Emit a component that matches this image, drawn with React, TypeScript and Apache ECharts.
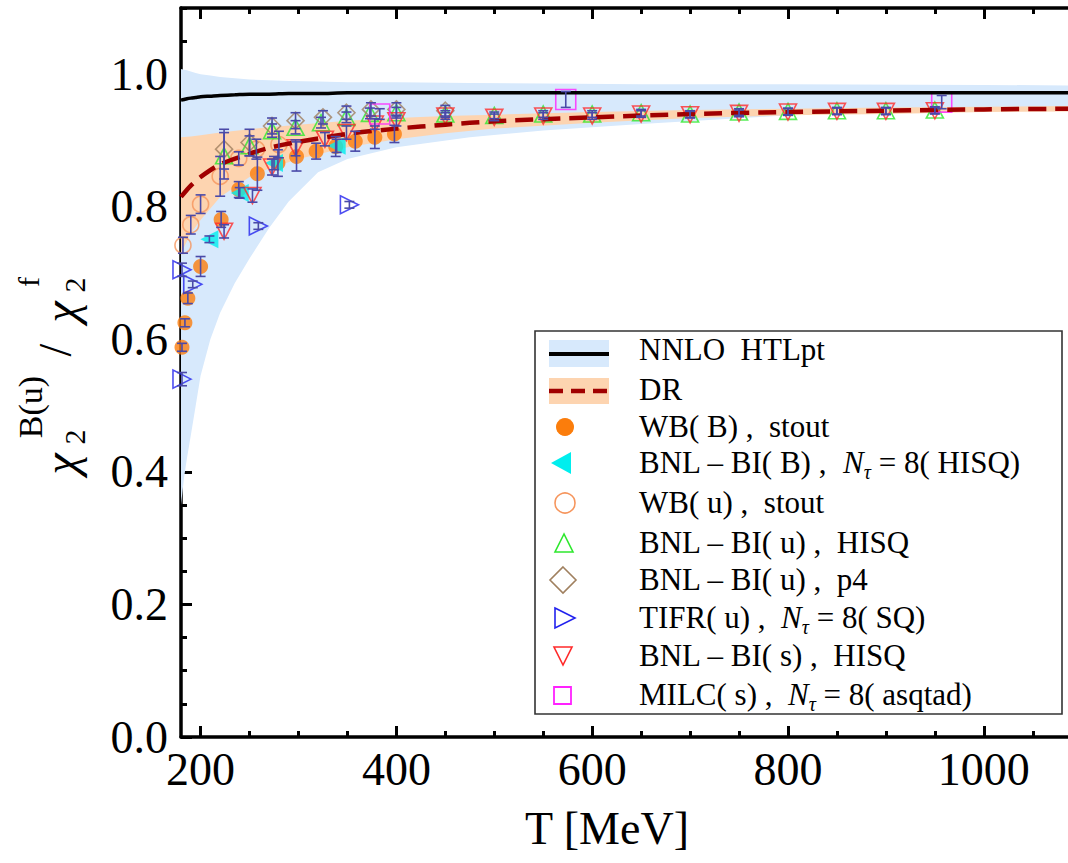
import React, { useEffect, useRef } from 'react';
import * as echarts from 'echarts';

// ---------- tick labels ----------
const X_MAJOR = [200, 400, 600, 800, 1000];
const X_MINOR = [200, 250, 300, 350, 400, 450, 500, 550, 600, 650, 700, 750, 800, 850, 900, 950, 1000, 1050];
const Y_MAJOR = [0, 0.2, 0.4, 0.6, 0.8, 1.0];
const Y_MINOR = [0, 0.05, 0.1, 0.15, 0.2, 0.25, 0.3, 0.35, 0.4, 0.45, 0.5, 0.55, 0.6, 0.65, 0.7, 0.75, 0.8, 0.85, 0.9, 0.95, 1.0, 1.05, 1.1];

// ---------- NNLO HTLpt band + central line ----------
const HTL_T = [180, 183, 186, 190, 195, 200, 210, 220, 235, 250, 270, 290, 320, 350, 400, 475, 550, 650, 800, 1000, 1090];
const HTL_LOW = [0.35, 0.39, 0.42, 0.455, 0.5, 0.545, 0.6, 0.64, 0.685, 0.722, 0.768, 0.808, 0.852, 0.872, 0.89, 0.905, 0.915, 0.925, 0.938, 0.948, 0.952];
const HTL_UP = [1.008, 1.007, 1.006, 1.004, 1.002, 1.0, 0.998, 0.996, 0.994, 0.992, 0.991, 0.99, 0.989, 0.988, 0.988, 0.987, 0.986, 0.985, 0.985, 0.984, 0.983];
const HTL_MID = [0.961, 0.962, 0.963, 0.964, 0.965, 0.966, 0.967, 0.968, 0.969, 0.97, 0.97, 0.971, 0.971, 0.972, 0.972, 0.972, 0.972, 0.972, 0.972, 0.972, 0.972];

// ---------- DR band + central line ----------
const DR_T = [180, 190, 200, 220, 250, 270, 300, 350, 400, 450, 500, 600, 700, 800, 900, 1000, 1090];
const DR_MID = [0.815, 0.832, 0.845, 0.864, 0.88, 0.889, 0.898, 0.91, 0.918, 0.924, 0.929, 0.935, 0.94, 0.943, 0.945, 0.947, 0.948];
const DR_UP = [0.905, 0.906, 0.908, 0.912, 0.917, 0.92, 0.924, 0.93, 0.934, 0.937, 0.939, 0.943, 0.946, 0.948, 0.95, 0.951, 0.952];
const DR_LOW = [0.73, 0.76, 0.78, 0.815, 0.845, 0.858, 0.872, 0.89, 0.902, 0.911, 0.918, 0.927, 0.934, 0.938, 0.94, 0.943, 0.944];

// ---------- lattice data ----------
const WBB_T = [181, 184, 187, 200, 221, 239, 258, 279, 298, 318, 338, 358, 378, 398];
const WBB_V = [0.588, 0.625, 0.662, 0.71, 0.781, 0.826, 0.85, 0.866, 0.876, 0.884, 0.891, 0.899, 0.905, 0.91];
const WBB_E = [0.006, 0.006, 0.008, 0.015, 0.012, 0.012, 0.025, 0.02, 0.022, 0.012, 0.015, 0.015, 0.017, 0.013];

const BNLB_T = [209, 240, 275, 339];
const BNLB_V = [0.751, 0.821, 0.866, 0.892];
const BNLB_E = [0.005, 0.008, 0.01, 0.01];

const WBU_T = [182, 190, 200, 220, 239, 257, 280];
const WBU_V = [0.742, 0.773, 0.804, 0.846, 0.873, 0.887, 0.894];
const WBU_E = [0.012, 0.014, 0.014, 0.03, 0.01, 0.015, 0.02];

const HISQU_T = [224, 250, 273, 297, 323, 349, 373, 400, 450, 500, 550, 600, 650, 700, 750, 800, 850, 900, 950];
const HISQU_V = [0.877, 0.892, 0.915, 0.92, 0.927, 0.935, 0.941, 0.942, 0.94, 0.938, 0.94, 0.94, 0.942, 0.94, 0.943, 0.944, 0.945, 0.945, 0.946];
const HISQU_E = [0.035, 0.015, 0.01, 0.01, 0.008, 0.008, 0.008, 0.008, 0.005, 0.005, 0.005, 0.005, 0.005, 0.005, 0.005, 0.005, 0.005, 0.005, 0.005];

const P4_T = [224, 250, 273, 297, 325, 349, 374, 400, 450];
const P4_V = [0.887, 0.897, 0.922, 0.93, 0.935, 0.942, 0.947, 0.947, 0.945];
const P4_E = [0.03, 0.02, 0.012, 0.012, 0.01, 0.01, 0.01, 0.01, 0.008];

const TIFR_T = [181, 181, 192, 259, 352];
const TIFR_V = [0.705, 0.54, 0.683, 0.771, 0.803];
const TIFR_E = [0.01, 0.01, 0.005, 0.005, 0.005];

const HISQS_T = [224, 253, 273, 297, 327, 349, 378, 400, 450, 500, 550, 600, 650, 700, 750, 800, 850, 900, 950];
const HISQS_V = [0.763, 0.817, 0.86, 0.889, 0.902, 0.912, 0.925, 0.93, 0.937, 0.935, 0.937, 0.937, 0.94, 0.939, 0.941, 0.943, 0.944, 0.944, 0.945];
const HISQS_E = [0.01, 0.01, 0.012, 0.012, 0.01, 0.01, 0.008, 0.008, 0.005, 0.005, 0.005, 0.005, 0.005, 0.005, 0.005, 0.005, 0.005, 0.005, 0.005];

const MILC_T = [383, 573, 957];
const MILC_V = [0.94, 0.962, 0.958];
const MILC_E = [0.008, 0.012, 0.01];

const LEGEND_LABELS = [
  'NNLO  HTLpt',
  'DR',
  'WB( B) ,  stout',
  'BNL – BI( B) ,  {i|N}{s|τ} = 8( HISQ)',
  'WB( u) ,  stout',
  'BNL – BI( u) ,  HISQ',
  'BNL – BI( u) ,  p4',
  'TIFR( u) ,  {i|N}{s|τ} = 8( SQ)',
  'BNL – BI( s) ,  HISQ',
  'MILC( s) ,  {i|N}{s|τ} = 8( asqtad)',
];

const FONT = 'Liberation Serif';
const BLUE_BAND = '#d7e9fc';
const ORANGE_BAND = '#fdd4b0';
const ERR_COLOR = '#4a4aa8';
const C_ORANGE = '#fb7d0c';
const C_CYAN = '#00eeee';
const C_OPEN_ORANGE = '#f6955c';
const C_GREEN = '#2ee82e';
const C_BROWN = '#a0805f';
const C_BLUE = '#2222ee';
const C_RED = '#ff2a2a';
const C_MAGENTA = '#ff22ff';
const C_DR = '#a00000';

const zip = (t: number[], v: number[]) => t.map((x, i) => [x, v[i]]);

const bandSeries = (T: number[], LOW: number[], UP: number[], fill: string) => ({
  type: 'custom',
  data: T.map((t, i) => [t, LOW[i], UP[i]]),
  clip: true,
  silent: true,
  renderItem: (params: any, api: any) => {
    if (params.dataIndex !== 0) return { type: 'group', children: [] };
    const pts: number[][] = [];
    for (let i = 0; i < T.length; i++) pts.push(api.coord([T[i], UP[i]]));
    for (let i = T.length - 1; i >= 0; i--) pts.push(api.coord([T[i], LOW[i]]));
    return { type: 'polygon', shape: { points: pts }, style: { fill, stroke: 'none' } };
  },
});

export default function App() {
  const ref = useRef<HTMLDivElement>(null);
  useEffect(() => {
    if (!ref.current) return;
    const chart = echarts.init(ref.current, undefined, { renderer: 'svg' });

    const errData: number[][] = [];
    const addErr = (t: number[], v: number[], e: number[]) => t.forEach((x, i) => errData.push([x, v[i], e[i]]));
    addErr(WBB_T, WBB_V, WBB_E);
    addErr(BNLB_T, BNLB_V, BNLB_E);
    addErr(WBU_T, WBU_V, WBU_E);
    addErr(HISQU_T, HISQU_V, HISQU_E);
    addErr(P4_T, P4_V, P4_E);
    addErr(TIFR_T, TIFR_V, TIFR_E);
    addErr(HISQS_T, HISQS_V, HISQS_E);
    addErr(MILC_T, MILC_V, MILC_E);

    const axBase = { type: 'value' as const, min: 180, max: 1086, splitLine: { show: false } };
    const ayBase = { type: 'value' as const, min: 0, max: 1.1, splitLine: { show: false } };
    const tickStyle = { color: '#000', width: 3 };
    const lineStyle = { color: '#000', width: 3.5 };

    const open = (c: string) => ({ color: 'rgba(0,0,0,0)', borderColor: c, borderWidth: 1.6 });

    const rows = [349, 389, 427, 463, 503, 543, 580, 618, 656, 695];
    const richBase = {
      i: { fontFamily: FONT, fontSize: 31, fontStyle: 'italic', fill: '#000', color: '#000' },
      s: { fontFamily: FONT, fontSize: 20, fontStyle: 'italic', fill: '#000', color: '#000', verticalAlign: 'bottom', lineHeight: 40 },
    };
    const legendTexts = LEGEND_LABELS.map((txt, k) => ({
      type: 'text',
      x: 639,
      y: rows[k] + (k < 2 ? 0 : -1),
      style: {
        text: txt,
        fontFamily: FONT,
        fontSize: 31,
        fill: '#000',
        align: 'left',
        verticalAlign: 'middle',
        rich: richBase,
      },
      z: 100,
    }));

    const ttl = (text: string, x: number, y: number, size: number, italic = false) => ({
      type: 'text',
      x,
      y,
      rotation: Math.PI / 2,
      style: {
        text, fontFamily: FONT, fontSize: size, fill: '#000', align: 'center', verticalAlign: 'middle',
        fontStyle: italic ? 'italic' : 'normal',
      },
      z: 100,
    });

    chart.setOption({
      animation: false,
      grid: { left: 181, right: 0, top: 8, bottom: 126, containLabel: false },
      xAxis: [
        {
          ...axBase, position: 'bottom',
          axisLine: { show: true, onZero: false, lineStyle },
          axisTick: { show: true, inside: true, length: 11, lineStyle: tickStyle, customValues: X_MAJOR },
          axisLabel: {
            show: true, customValues: X_MAJOR, fontSize: 46, fontFamily: FONT, color: '#000', margin: 9,
            formatter: (v: number) => String(Math.round(v)),
          },
        },
        {
          ...axBase, position: 'bottom',
          axisLine: { show: false, onZero: false },
          axisTick: { show: true, inside: true, length: 6, lineStyle: tickStyle, customValues: X_MINOR },
          axisLabel: { show: false },
        },
        {
          ...axBase, position: 'top',
          axisLine: { show: true, onZero: false, lineStyle },
          axisTick: { show: true, inside: true, length: 11, lineStyle: tickStyle, customValues: X_MAJOR },
          axisLabel: { show: false },
        },
        {
          ...axBase, position: 'top',
          axisLine: { show: false, onZero: false },
          axisTick: { show: true, inside: true, length: 6, lineStyle: tickStyle, customValues: X_MINOR },
          axisLabel: { show: false },
        },
      ],
      yAxis: [
        {
          ...ayBase, position: 'left',
          axisLine: { show: true, onZero: false, lineStyle },
          axisTick: { show: true, inside: true, length: 11, lineStyle: tickStyle, customValues: Y_MAJOR },
          axisLabel: {
            show: true, customValues: Y_MAJOR, fontSize: 46, fontFamily: FONT, color: '#000', margin: 13,
            formatter: (v: number) => v.toFixed(1),
          },
        },
        {
          ...ayBase, position: 'left',
          axisLine: { show: false, onZero: false },
          axisTick: { show: true, inside: true, length: 6, lineStyle: tickStyle, customValues: Y_MINOR },
          axisLabel: { show: false },
        },
      ],
      series: [
        bandSeries(HTL_T, HTL_LOW, HTL_UP, BLUE_BAND),
        bandSeries(DR_T, DR_LOW, DR_UP, ORANGE_BAND),
        { type: 'line', data: zip(HTL_T, HTL_MID), symbol: 'none', smooth: 0.3, lineStyle: { color: '#000', width: 3.5 } },
        { type: 'line', data: zip(DR_T, DR_MID), symbol: 'none', smooth: 0.3, lineStyle: { color: C_DR, width: 4.5, type: [18, 9] } },
        { type: 'scatter', data: zip(WBB_T, WBB_V), symbol: 'circle', symbolSize: 15, itemStyle: { color: C_ORANGE } },
        { type: 'scatter', data: zip(BNLB_T, BNLB_V), symbol: 'triangle', symbolRotate: 90, symbolSize: [18, 18], itemStyle: { color: C_CYAN } },
        { type: 'scatter', data: zip(WBU_T, WBU_V), symbol: 'circle', symbolSize: 16, itemStyle: open(C_OPEN_ORANGE) },
        { type: 'scatter', data: zip(HISQU_T, HISQU_V), symbol: 'triangle', symbolSize: [17, 16], itemStyle: open(C_GREEN) },
        { type: 'scatter', data: zip(P4_T, P4_V), symbol: 'diamond', symbolSize: [17, 17], itemStyle: open(C_BROWN) },
        { type: 'scatter', data: zip(TIFR_T, TIFR_V), symbol: 'triangle', symbolRotate: -90, symbolSize: [18, 18], itemStyle: open(C_BLUE) },
        { type: 'scatter', data: zip(HISQS_T, HISQS_V), symbol: 'triangle', symbolRotate: 180, symbolSize: [17, 16], itemStyle: open(C_RED) },
        { type: 'scatter', data: zip(MILC_T, MILC_V), symbol: 'rect', symbolSize: 20, itemStyle: open(C_MAGENTA) },
        {
          type: 'custom',
          data: errData,
          z: 10,
          renderItem: (params: any, api: any) => {
            const x = api.value(0), y = api.value(1), e = api.value(2);
            const top = api.coord([x, y + e]);
            const bot = api.coord([x, y - e]);
            const st = { stroke: ERR_COLOR, lineWidth: 1.6 };
            const cap = 5;
            return {
              type: 'group',
              children: [
                { type: 'line', shape: { x1: top[0], y1: top[1], x2: bot[0], y2: bot[1] }, style: st },
                { type: 'line', shape: { x1: top[0] - cap, y1: top[1], x2: top[0] + cap, y2: top[1] }, style: st },
                { type: 'line', shape: { x1: bot[0] - cap, y1: bot[1], x2: bot[0] + cap, y2: bot[1] }, style: st },
              ],
            };
          },
        },
      ],
      graphic: [
        { type: 'rect', shape: { x: 535, y: 331, width: 527, height: 383 }, style: { fill: '#fff', stroke: '#333', lineWidth: 1.6 }, z: 90 },
        // NNLO icon
        { type: 'rect', shape: { x: 549, y: 340, width: 60, height: 27 }, style: { fill: BLUE_BAND }, z: 95 },
        { type: 'line', shape: { x1: 549, y1: 354, x2: 609, y2: 354 }, style: { stroke: '#000', lineWidth: 4 }, z: 96 },
        // DR icon
        { type: 'rect', shape: { x: 549, y: 378, width: 60, height: 26 }, style: { fill: ORANGE_BAND }, z: 95 },
        { type: 'line', shape: { x1: 549, y1: 391, x2: 609, y2: 391 }, style: { stroke: C_DR, lineWidth: 4.5, lineDash: [14, 8] }, z: 96 },
        // markers
        { type: 'circle', shape: { cx: 565, cy: 427, r: 9 }, style: { fill: C_ORANGE }, z: 96 },
        { type: 'polygon', shape: { points: [[551, 463], [571, 452], [571, 474]] }, style: { fill: C_CYAN }, z: 96 },
        { type: 'circle', shape: { cx: 565, cy: 503, r: 10 }, style: { fill: 'none', stroke: C_OPEN_ORANGE, lineWidth: 1.6 }, z: 96 },
        { type: 'polygon', shape: { points: [[564, 534], [555, 552], [573, 552]] }, style: { fill: 'none', stroke: C_GREEN, lineWidth: 1.6 }, z: 96 },
        { type: 'polygon', shape: { points: [[563, 567], [576, 580], [563, 593], [550, 580]] }, style: { fill: 'none', stroke: C_BROWN, lineWidth: 1.6 }, z: 96 },
        { type: 'polygon', shape: { points: [[555, 608], [575, 618], [555, 628]] }, style: { fill: 'none', stroke: C_BLUE, lineWidth: 1.6 }, z: 96 },
        { type: 'polygon', shape: { points: [[554, 647], [572, 647], [563, 665]] }, style: { fill: 'none', stroke: C_RED, lineWidth: 1.6 }, z: 96 },
        { type: 'rect', shape: { x: 554, y: 687, width: 17, height: 17 }, style: { fill: 'none', stroke: C_MAGENTA, lineWidth: 1.8 }, z: 96 },
        ...legendTexts,
        // axis titles
        {
          type: 'text', x: 607, y: 828,
          style: { text: 'T [MeV]', fontFamily: FONT, fontSize: 46, fill: '#000', align: 'center', verticalAlign: 'middle' },
          z: 100,
        },
        ttl('χ', 60, 464, 48, true),
        ttl('2', 74, 437, 30),
        ttl('B(u)', 30, 407, 34),
        ttl('/', 55, 350, 46),
        ttl('χ', 60, 312, 48, true),
        ttl('2', 74, 285, 30),
        ttl('f', 28, 282, 30),
      ],
    });
    return () => chart.dispose();
  }, []);
  return <div ref={ref} style={{ position: 'absolute', left: 0, top: 0, width: 1068, height: 863, background: '#fff' }} />;
}
